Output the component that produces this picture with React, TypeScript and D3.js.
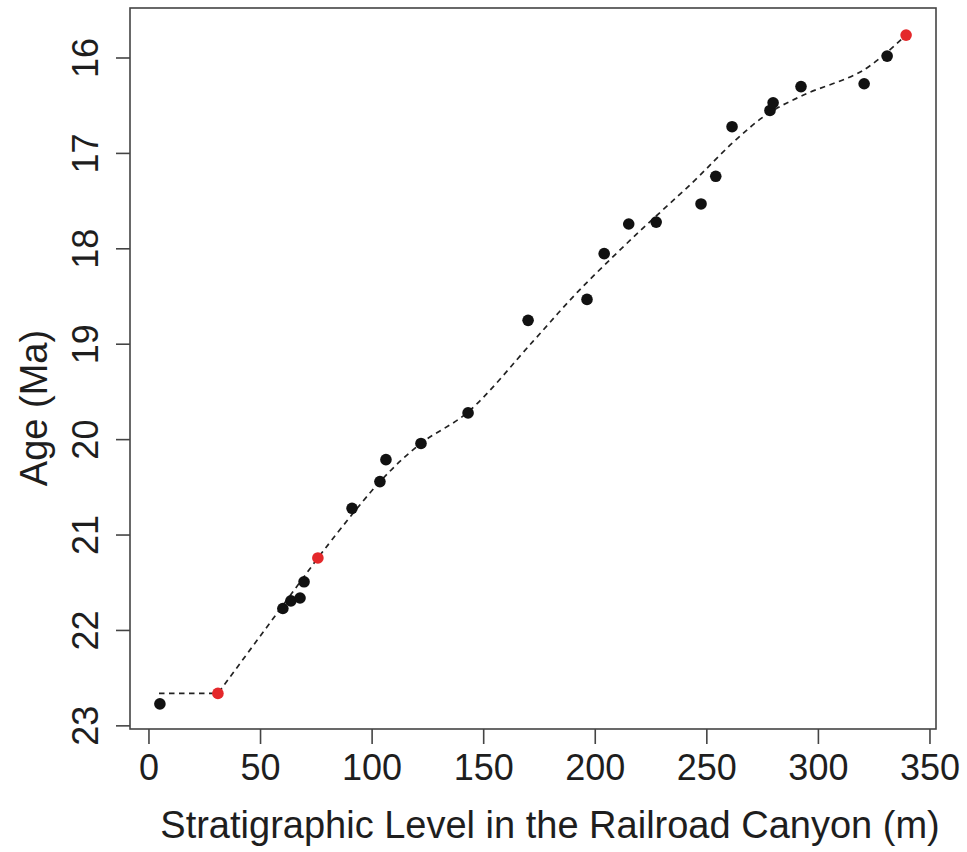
import React from "react";
import * as d3 from "d3";

// Measured samples (black)
const levels = [4.9, 60, 63.6, 67.7, 69.5, 91, 103.5, 106.2, 121.9, 143, 169.9, 196.3, 204, 215, 227.3, 247.4, 254, 261.3, 278.3, 279.7, 292.2, 320.5, 330.8];
const ages = [22.77, 21.77, 21.69, 21.66, 21.49, 20.72, 20.44, 20.21, 20.04, 19.72, 18.75, 18.53, 18.05, 17.74, 17.72, 17.53, 17.24, 16.72, 16.55, 16.47, 16.30, 16.27, 15.98];

// Tie points (red)
const tieLevels = [30.9, 75.7, 339.3];
const tieAges = [22.66, 21.24, 15.76];

// Age model (dashed line)
const modelLevels = [4.5, 30.9, 75.7, 103.5, 121.9, 143, 172.1, 191.8, 217, 243.8, 262, 277, 293.1, 320, 339.3];
const modelAges = [22.66, 22.66, 21.24, 20.44, 20.04, 19.71, 18.97, 18.46, 17.88, 17.30, 16.88, 16.59, 16.39, 16.13, 15.76];

const xTicks = [0, 50, 100, 150, 200, 250, 300, 350];
const yTicks = [16, 17, 18, 19, 20, 21, 22, 23];

const W = 967;
const H = 852;
const L = 130, R = 936, T = 8, B = 729;

export default function App() {
  const x = d3.scaleLinear().domain([-8.5, 352.7]).range([L, R]);
  const y = d3.scaleLinear().domain([15.476, 23.033]).range([T, B]);

  const modelPts: [number, number][] = modelLevels.map((l, i) => [l, modelAges[i]]);
  const flatPart = modelPts.slice(0, 3);
  const curvePart = modelPts.slice(2);
  const lineLin = d3.line<[number, number]>().x(d => x(d[0])).y(d => y(d[1]));
  const lineCurve = d3.line<[number, number]>().x(d => x(d[0])).y(d => y(d[1])).curve(d3.curveCatmullRom.alpha(0.5));
  const path = (lineLin(flatPart) || "") + (lineCurve(curvePart) || "").replace(/^M/, "L");

  const font = "Liberation Sans, Arial, sans-serif";
  const textColor = "#1e1e1e";
  const axisColor = "#444";

  return (
    <svg width={W} height={H} style={{ position: "absolute", left: 0, top: 0, background: "#fff" }} fontFamily={font}>
      <rect x={0} y={0} width={W} height={H} fill="#fff" />
      <path d={path} fill="none" stroke="#222" strokeWidth={1.7} strokeDasharray="5.5,4.5" />
      {levels.map((l, i) => (
        <circle key={"b" + i} cx={x(l)} cy={y(ages[i])} r={5.8} fill="#111" />
      ))}
      {tieLevels.map((l, i) => (
        <circle key={"r" + i} cx={x(l)} cy={y(tieAges[i])} r={5.8} fill="#e4282b" />
      ))}
      <rect x={L} y={T} width={R - L} height={B - T} fill="none" stroke={axisColor} strokeWidth={1.6} />
      {xTicks.map(t => (
        <g key={"xt" + t}>
          <line x1={x(t)} x2={x(t)} y1={B} y2={B + 15} stroke={axisColor} strokeWidth={1.6} />
          <text x={x(t)} y={780} textAnchor="middle" fontSize={36} fill={textColor}>{t}</text>
        </g>
      ))}
      {yTicks.map(t => (
        <g key={"yt" + t}>
          <line x1={L - 14} x2={L} y1={y(t)} y2={y(t)} stroke={axisColor} strokeWidth={1.6} />
          <text transform={`translate(98,${y(t)}) rotate(-90)`} textAnchor="middle" fontSize={36} fill={textColor}>{t}</text>
        </g>
      ))}
      <text x={550} y={838} textAnchor="middle" fontSize={38} fill={textColor}>Stratigraphic Level in the Railroad Canyon (m)</text>
      <text transform={`translate(47,408) rotate(-90)`} textAnchor="middle" fontSize={38} fill={textColor}>Age (Ma)</text>
    </svg>
  );
}
